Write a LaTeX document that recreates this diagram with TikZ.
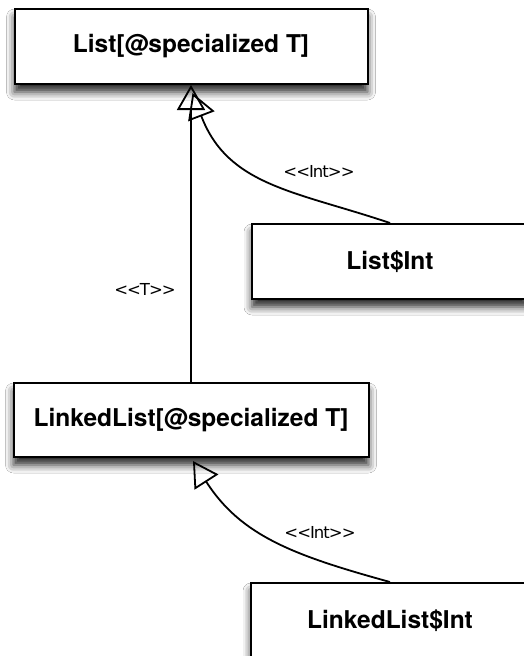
\documentclass[tikz,border=0pt]{standalone}
\usepackage{fontspec}
\setmainfont{TeX Gyre Heros}[Ligatures=TeXOff]
% stereotype labels: tall angle brackets, set tight
\newfontfamily\stereofont{DejaVu Sans}[Ligatures=TeXOff, LetterSpace=-6]
\usetikzlibrary{arrows.meta,shadows.blur,calc}

\tikzset{
  classbox/.style={draw=black, line width=2pt, fill=white, rectangle,
    inner sep=0pt, font=\fontsize{24.5}{29}\selectfont\bfseries,
    blur shadow={shadow xshift=0pt, shadow yshift=-8pt,
      shadow blur radius=8pt, shadow opacity=85}},
  gen/.style={draw=black, line width=1.8pt,
    -{Triangle[open, length=25pt, width=28pt, line width=1.8pt]}},
  stereo/.style={inner sep=0pt, font=\stereofont\fontsize{16.5}{20}\selectfont}
}

\begin{document}
\begin{tikzpicture}[x=1pt, y=-1pt]
  \useasboundingbox (0,0) rectangle (524,656);
  \fill[white] (0,0) rectangle (524,656);
  \clip (0,0) rectangle (524,656);

  % class boxes
  \node[classbox, minimum width=353pt, minimum height=75pt] (list) at (191,46.5) {List[@specialized T]};
  \node[classbox, minimum width=276pt, minimum height=75pt] (listint) at (390,261.5) {List\$Int};
  \node[classbox, minimum width=355pt, minimum height=74pt] (llist) at (191,420) {LinkedList[@specialized T]};
  \node[classbox, minimum width=278pt, minimum height=75pt] (llistint) at (390,620.5) {LinkedList\$Int};

  % inheritance and specialisation links
  \draw[gen] (llist.north) -- (list.south);
  \draw[gen] (listint.north) .. controls +(-95,-32) and (228,186) .. ($(list.south)+(1.5,8)$);
  \draw[gen] (llistint.north) .. controls +(-96,-26.5) and (241,536) .. ($(llist.south)+(2,3)$);

  % stereotype labels
  \node[stereo] (tlabel) at (145,289) {<<T>>};
  \node[stereo] (intlabel) at (319,171) {<<Int>>};
  \node[stereo] (llintlabel) at (320,532) {<<Int>>};
\end{tikzpicture}
\end{document}
